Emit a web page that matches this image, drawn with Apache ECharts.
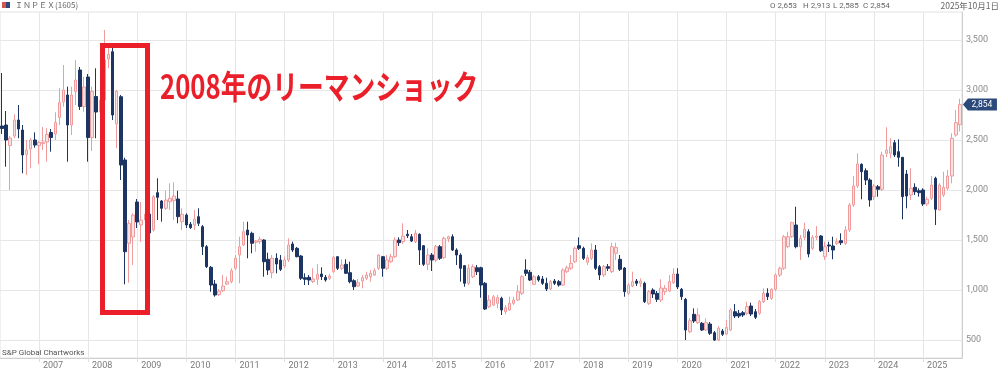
<!DOCTYPE html>
<html>
<head>
<meta charset="utf-8">
<script src="https://cdn.jsdelivr.net/npm/echarts@6/dist/echarts.min.js"></script>
<style>
html,body{margin:0;padding:0;background:#fff;}
#c{width:1000px;height:376px;}
</style>
</head>
<body>
<div id="c"></div>
<script>
// Monthly candles, April 2006 .. October 2025
const startYear = 2006, startMonth = 4, monthCount = 235;
const categories = [];
for (let k = 0; k < monthCount; k++) {
  const t = startYear * 12 + (startMonth - 1) + k;
  const y = Math.floor(t / 12), m = t % 12 + 1;
  categories.push(y + '-' + (m < 10 ? '0' + m : m));
}

const opens = [
2640,2650,2445,2540,2700,2600,2355,2410,2500,2445,2465,2480,2575,2560,2725,2880,2950,2650,2985,3200,2835,3130,2525,2935,2780,2900,3310,3383,2660,2933,
2300,1467,1530,1880,1650,1700,1760,1600,1973,1890,1817,1883,1893,1910,1683,1750,1657,1650,1733,1633,1433,1227,1060,955,993,1060,1083,1217,1350,1450,
1600,1567,1477,1483,1500,1307,1173,1317,1300,1240,1300,1460,1417,1340,1123,1127,1085,1107,1160,1127,1117,1183,1333,1217,1257,1173,1093,1040,1090,1117,
1133,1150,1217,1333,1217,1283,1333,1500,1483,1557,1533,1483,1557,1443,1257,1350,1300,1433,1323,1510,1533,1400,1350,1243,1067,1133,1223,1223,1067,833,
850,867,917,783,800,867,900,967,1200,1177,1057,1133,1110,1067,1010,1090,1083,1050,1183,1217,1283,1443,1417,1277,1317,1400,1233,1150,1233,1183,
1367,1307,1220,967,1040,1090,1067,1067,867,1000,967,900,983,990,1073,1160,1007,907,583,757,673,667,600,660,573,500,590,560,600,783,
767,773,767,840,783,767,883,967,917,1007,1150,1217,1433,1533,1650,1433,1527,1583,1417,1527,1540,1333,1450,1440,1467,1493,1467,1600,1850,2040,
2257,2193,2100,1933,2033,2007,2367,2367,2473,2383,2327,2160,1950,2027,1993,2000,1860,1917,2117,1800,1950,2017,2140,2550,2653
];
const closes = [
2615,2500,2520,2700,2610,2350,2400,2500,2450,2475,2480,2555,2525,2675,2875,3000,2650,2950,3100,2835,3030,2525,2985,2780,2900,3300,3357,2750,2985,2250,
1383,1667,1750,1680,1700,1760,1570,1933,1927,1817,1900,1917,1940,1733,1757,1650,1623,1710,1667,1433,1233,1050,950,990,1040,1083,1193,1317,1433,1583,
1550,1467,1490,1507,1283,1200,1317,1260,1207,1300,1450,1400,1333,1117,1107,1100,1110,1157,1133,1100,1140,1327,1217,1250,1167,1083,1033,1073,1123,1150,
1167,1193,1350,1217,1300,1333,1500,1473,1540,1543,1490,1567,1400,1257,1350,1300,1433,1317,1517,1533,1400,1350,1217,1067,1217,1233,1183,1050,810,900,
933,923,800,823,867,900,983,1133,1167,1100,1133,1100,1067,1010,1083,1067,1050,1200,1223,1267,1417,1417,1317,1323,1400,1217,1150,1233,1217,1433,
1427,1207,983,1050,1083,1067,1090,883,983,960,907,1020,1017,1085,1160,1030,933,600,693,690,750,600,673,567,500,617,557,625,800,740,
740,750,833,760,727,883,967,933,1007,1150,1217,1533,1533,1673,1433,1517,1607,1360,1527,1540,1393,1433,1440,1400,1483,1473,1600,1850,2040,2260,
2183,2100,1900,2040,2007,2350,2400,2433,2350,2327,1933,1940,2017,1983,1973,1860,1907,2050,1807,2050,2027,2140,2517,2673,2854
];
const lows = [
2560,2233,2000,2517,2517,2167,2150,2217,2423,2257,2400,2283,2383,2500,2650,2833,2283,2550,2850,2800,2783,2283,2390,2517,2700,2880,3217,2700,2417,2100,
1057,1073,1250,1620,1480,1550,1550,1583,1700,1683,1800,1800,1700,1667,1600,1620,1610,1600,1640,1350,1220,983,933,940,980,1050,1067,1200,1067,1440,
1317,1367,1383,1460,1133,1150,1117,1167,1190,1220,1280,1380,1327,1100,1050,1050,1070,1050,1100,1083,1100,1170,1200,1200,1160,1067,1000,1030,1017,1100,
1083,1140,1200,1133,1200,1270,1320,1440,1460,1520,1480,1470,1250,1240,1200,1190,1280,1300,1310,1480,1390,1250,1083,1033,1050,1120,1150,923,800,820,
840,817,750,757,790,850,890,950,1140,1090,1050,1083,1050,990,1000,1050,1033,1040,1170,1200,1270,1400,1300,1250,1300,1200,1100,1130,1190,1170,
1300,1190,933,950,1030,1040,1030,870,850,920,880,880,950,980,1060,1010,900,500,570,670,660,590,590,550,490,490,540,550,590,720,
720,730,750,740,710,750,870,900,900,990,1130,1200,1417,1520,1417,1300,1500,1327,1400,1500,1380,1300,1380,1307,1450,1450,1450,1580,1830,2020,
1907,2050,1833,1900,1933,1990,2330,2317,2330,2233,1707,1817,1900,1950,1933,1840,1840,1900,1650,1790,1930,2000,2067,2533,2585
];
const highs = [
3170,2790,2540,2757,2850,2650,2500,2520,2577,2490,2630,2617,2610,2777,3017,3250,3033,3033,3300,3230,3133,3160,3033,3217,2950,3600,3433,3423,3000,2950,
2323,1700,1767,1910,1880,1800,1780,1950,2117,1900,1993,2067,2077,1993,1817,1767,1680,1800,1817,1650,1450,1240,1100,1010,1150,1133,1217,1350,1533,1683,
1683,1583,1500,1533,1507,1373,1350,1367,1350,1333,1517,1483,1430,1350,1167,1150,1217,1260,1227,1150,1160,1340,1340,1307,1307,1283,1107,1110,1150,1183,
1200,1217,1360,1340,1350,1360,1527,1527,1667,1600,1560,1600,1567,1450,1417,1370,1450,1450,1533,1543,1557,1417,1367,1250,1257,1257,1250,1233,1080,950,
950,950,933,850,933,933,1050,1150,1307,1200,1150,1150,1140,1123,1100,1110,1100,1217,1243,1350,1433,1527,1433,1350,1467,1450,1250,1250,1260,1473,
1473,1350,1230,1070,1183,1110,1117,1083,1000,1017,990,1107,1050,1150,1217,1217,1020,920,720,817,817,680,717,680,590,640,610,700,817,860,
800,790,883,873,810,900,1017,1017,1017,1167,1233,1550,1583,1683,1833,1550,1673,1607,1550,1640,1550,1483,1483,1533,1517,1567,1640,1870,2140,2367,
2267,2217,2117,2060,2050,2383,2627,2517,2500,2507,2330,2200,2217,2067,2017,2017,1933,2140,2133,2067,2183,2200,2567,2800,2913
];

const yTicks = [500, 1000, 1500, 2000, 2500, 3000, 3500];

const candleData = opens.map((o, i) => [o, closes[i], lows[i], highs[i]]);
const isJan = (idx, val) => String(val).slice(5) === '01';
const lastIdx = categories.length - 1;
const lastClose = closes[lastIdx];
const fmt = v => Number(v).toLocaleString('en-US');

const chart = echarts.init(document.getElementById('c'), null, {renderer: 'canvas'});
chart.setOption({
  animation: false,
  backgroundColor: '#ffffff',
  grid: {left: 0, right: 38, top: 12, bottom: 18, show: true, borderColor: '#e2e2e2', borderWidth: 1},
  xAxis: {
    type: 'category',
    data: categories,
    boundaryGap: true,
    axisLine: {show: true, lineStyle: {color: '#cfcfcf'}},
    axisTick: {show: true, interval: isJan, alignWithLabel: true, length: 4, lineStyle: {color: '#dedede'}},
    axisLabel: {
      interval: isJan,
      formatter: v => v.slice(0, 4),
      align: 'left',
      padding: [0, 0, 0, 4],
      margin: 3,
      color: '#7a7a7a',
      fontSize: 9,
      fontFamily: 'Roboto'
    },
    splitLine: {show: true, interval: isJan, alignWithLabel: true, lineStyle: {color: '#e6e6e6', width: 1}}
  },
  yAxis: {
    type: 'value',
    position: 'right',
    min: 320,
    max: 3780,
    scale: true,
    axisLine: {show: true, lineStyle: {color: '#cfcfcf'}},
    axisTick: {show: false, customValues: yTicks},
    axisLabel: {
      customValues: yTicks,
      formatter: v => fmt(v),
      color: '#8a8a8a',
      fontSize: 9,
      fontFamily: 'Roboto',
      margin: 4
    },
    splitLine: {show: true, lineStyle: {color: '#e6e6e6', width: 1}}
  },
  series: [{
    type: 'candlestick',
    data: candleData,
    barWidth: 3,
    itemStyle: {
      color: '#fbe2e2',
      color0: '#1d3563',
      borderColor: '#f09c9c',
      borderColor0: '#1d3563',
      borderWidth: 1
    },
    markPoint: {
      symbol: 'path://M0,6L5,0L34,0L34,12L5,12Z',
      symbolSize: [34, 12],
      symbolOffset: [20, 0],
      itemStyle: {color: '#2b4a7b'},
      label: {show: true, position: 'inside', color: '#ffffff', fontSize: 8.5, fontFamily: 'Roboto', offset: [2, 0], formatter: () => fmt(lastClose)},
      data: [{coord: [categories[lastIdx], lastClose], value: lastClose}]
    }
  }],
  graphic: [
    {type: 'rect', shape: {x: 2, y: 2, width: 4, height: 6}, style: {fill: '#d9534f'}},
    {type: 'rect', shape: {x: 6, y: 2, width: 4, height: 6}, style: {fill: '#2b4a7b'}},
    {type: 'text', x: 15, y: 5, style: {text: 'ＩＮＰＥＸ(1605)', fill: '#666', font: '8px "Noto Sans CJK JP", Roboto', verticalAlign: 'middle'}},
    {type: 'text', x: 770, y: 6, style: {text: 'O ' + fmt(opens[lastIdx]), fill: '#666', font: '8px Roboto', verticalAlign: 'middle'}},
    {type: 'text', x: 803, y: 6, style: {text: 'H ' + fmt(highs[lastIdx]), fill: '#666', font: '8px Roboto', verticalAlign: 'middle'}},
    {type: 'text', x: 833, y: 6, style: {text: 'L ' + fmt(lows[lastIdx]), fill: '#666', font: '8px Roboto', verticalAlign: 'middle'}},
    {type: 'text', x: 863, y: 6, style: {text: 'C ' + fmt(closes[lastIdx]), fill: '#666', font: '8px Roboto', verticalAlign: 'middle'}},
    {type: 'text', x: 999, y: 6, style: {text: '2025年10月1日', fill: '#666', font: '8.5px "Noto Sans CJK JP", Roboto', align: 'right', verticalAlign: 'middle'}},
    {type: 'text', x: 2, y: 353, style: {text: 'S&P Global Chartworks', fill: '#555', font: '8px Roboto', verticalAlign: 'middle'}},
    {type: 'rect', shape: {x: 102.5, y: 45.5, width: 45, height: 267}, style: {fill: 'none', stroke: '#ea1f29', lineWidth: 5}, z: 100},
    {type: 'text', x: 160, y: 86, scaleX: 0.78, z: 100,
     style: {text: '2008年のリーマンショック', fill: '#ea1f29', font: 'bold 33px "Noto Sans CJK JP"', verticalAlign: 'middle'}}
  ]
});
</script>
</body>
</html>
